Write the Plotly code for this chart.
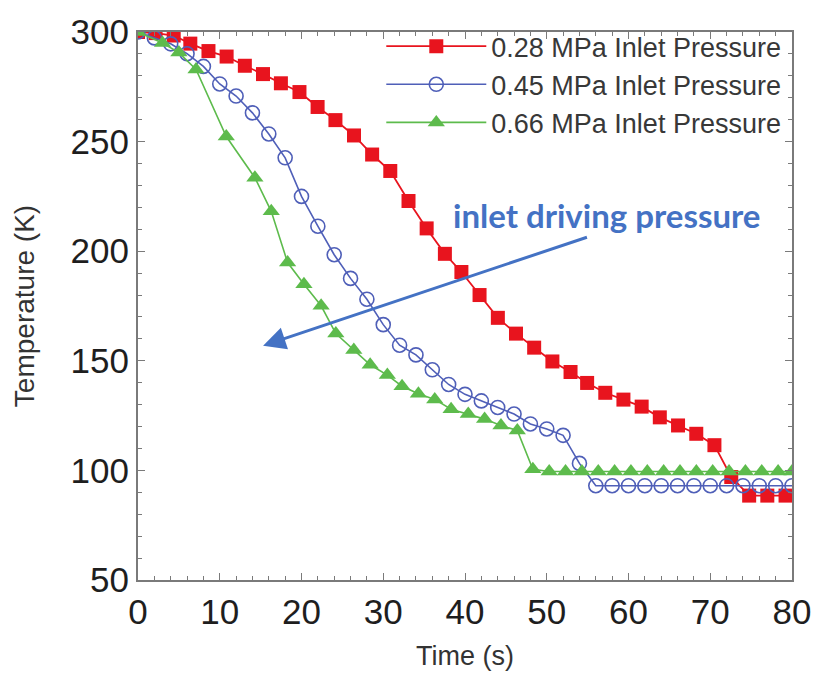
import plotly.graph_objects as go

# ---- data ----
red_t = [0, 2.15, 4.37, 6.40, 8.62, 10.84, 13.07, 15.29, 17.48, 19.75, 21.97, 24.15, 26.42,
         28.64, 30.86, 33.09, 35.31, 37.54, 39.56, 41.78, 44.02, 46.24, 48.46, 50.69, 52.91,
         54.94, 57.16, 59.38, 61.61, 63.83, 66.06, 68.29, 70.51, 72.57, 74.76, 76.98, 79.21]
red_T = [300, 299.5, 298.4, 294.7, 291.3, 288.8, 284.6, 280.8, 276.6, 272.6, 265.8, 259.8, 252.8,
         244.1, 236.6, 222.9, 210.4, 198.8, 190.5, 180.0, 169.6, 162.4, 156.0, 149.7, 144.9,
         139.9, 135.4, 132.3, 129.1, 124.2, 120.5, 116.7, 111.5, 97.0, 88.5, 88.5, 88.5]

blue_t = [0, 2, 4, 6, 8, 10, 12, 14, 16, 18, 20, 22, 24, 26, 28, 30, 32, 34, 36, 38, 40,
          42, 44, 46, 48, 50, 52, 54, 56, 58, 60, 62, 64, 66, 68, 70, 72, 74, 76, 78, 80]
blue_T = [300, 297.3, 294.6, 290.1, 284.3, 276.3, 270.8, 263.1, 253.5, 242.6, 225.0, 211.4,
          198.4, 187.6, 178.1, 166.5, 157.1, 152.7, 145.9, 139.2, 134.7, 131.7, 128.7, 125.7,
          121.2, 118.9, 116.0, 103.2, 93, 93, 93, 93, 93, 93, 93, 93, 93, 93, 93, 93, 93]

green_t = [0, 3.0, 5.0, 7.1, 10.8, 14.3, 16.3, 18.3, 20.3, 22.4, 24.2, 26.4, 28.4, 30.5, 32.3,
           34.3, 36.3, 38.3, 40.4, 42.4, 44.4, 46.4, 48.3, 50.3, 52.3, 54.3, 56.3, 58.3, 60.3,
           62.3, 64.3, 66.3, 68.3, 70.3, 72.3, 74.3, 76.3, 78.3, 80]
green_T = [300, 295.0, 290.6, 282.9, 252.3, 233.5, 218.2, 194.8, 184.9, 175.1, 162.4, 154.9,
           148.2, 143.5, 138.4, 135.0, 132.4, 127.9, 125.7, 123.4, 120.5, 118.2, 100.5, 99.5,
           99.5, 99.5, 99.5, 99.5, 99.5, 99.5, 99.5, 99.5, 99.5, 99.5, 99.5, 99.5, 99.5, 99.5, 99.5]

series_names = ["0.28 MPa Inlet Pressure", "0.45 MPa Inlet Pressure", "0.66 MPa Inlet Pressure"]

RED = "#E8141E"
BLUE = "#4F5FB8"
GREEN = "#5DBB4C"
ARROW = "#4472C4"

fig = go.Figure()
fig.add_trace(go.Scatter(
    x=red_t, y=red_T, name=series_names[0], mode="lines+markers", legendgroup="a",
    line=dict(color=RED, width=1.8),
    marker=dict(symbol="square", size=14, color=RED, line=dict(width=0))))
fig.add_trace(go.Scatter(
    x=blue_t, y=blue_T, name=series_names[1], mode="lines+markers", legendgroup="b",
    line=dict(color=BLUE, width=1.6),
    marker=dict(symbol="circle-open", size=14, color=BLUE, line=dict(width=1.6))))
fig.add_trace(go.Scatter(
    x=green_t, y=green_T, name=series_names[2], mode="lines+markers", legendgroup="c",
    line=dict(color=GREEN, width=1.6),
    marker=dict(symbol="triangle-up", size=15, color=GREEN, line=dict(width=0))))

axis_common = dict(
    showline=True, linecolor="#7a7a7a", linewidth=2, mirror="allticks",
    ticks="inside", ticklen=7, tickwidth=1.2, tickcolor="#7a7a7a",
    showgrid=False, zeroline=False,
    tickfont=dict(family="Liberation Sans", size=35, color="#1e1e1e"),
)

fig.update_xaxes(range=[0, 80], dtick=10, tick0=0,
                 minor=dict(dtick=2, ticks="inside", ticklen=4, tickcolor="#7a7a7a"),
                 title=dict(text="Time (s)", standoff=16,
                            font=dict(family="Liberation Sans", size=27, color="#333333")),
                 **axis_common)
fig.update_yaxes(range=[50, 300], dtick=50, tick0=0,
                 minor=dict(dtick=10, ticks="inside", ticklen=4, tickcolor="#7a7a7a"),
                 title=dict(text="Temperature (K)", standoff=28,
                            font=dict(family="Liberation Sans", size=28, color="#333333")),
                 **axis_common)

fig.add_annotation(x=15.3, y=156.9, ax=55.1, ay=206.6, xref="x", yref="y",
                   axref="x", ayref="y", text="", showarrow=True,
                   arrowhead=2, arrowsize=1.5, arrowwidth=3, arrowcolor=ARROW, standoff=0)
fig.add_annotation(x=57.4, y=216.5, xref="x", yref="y", text="<b>inlet driving pressure</b>",
                   showarrow=False, font=dict(family="Lato", size=33, color=ARROW))

fig.update_layout(
    width=823, height=678,
    margin=dict(l=138, r=25, t=24, b=98),
    paper_bgcolor="white", plot_bgcolor="white",
    legend=dict(x=0.372, y=1.018, xanchor="left", yanchor="top", bgcolor="rgba(0,0,0,0)",
                font=dict(family="Liberation Sans", size=27, color="#383838"),
                itemwidth=100, tracegroupgap=0),
)

fig.write_html("out.html")
